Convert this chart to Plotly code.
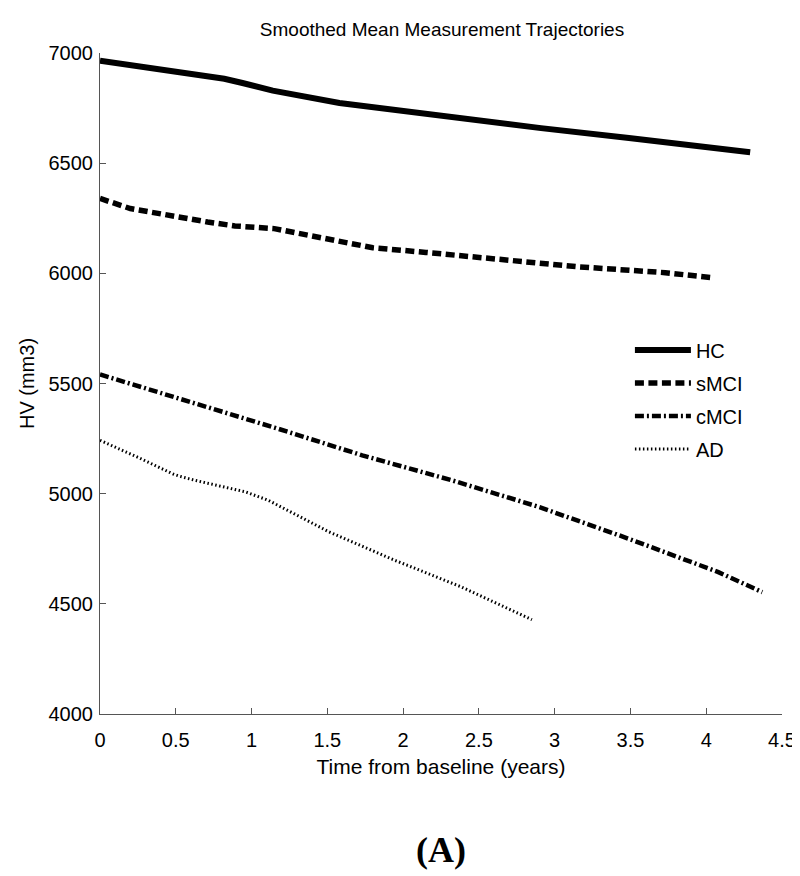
import plotly.graph_objects as go

# Data
hc_x = [0, 0.5, 0.82, 0.94, 1.14, 1.58, 1.97, 2.47, 2.91, 3.49, 4.29]
hc_y = [6965, 6915, 6883, 6864, 6829, 6773, 6738, 6697, 6659, 6614, 6550]

smci_x = [0, 0.2, 0.71, 0.89, 1.15, 1.48, 1.80, 2.15, 2.56, 3.15, 3.73, 4.04]
smci_y = [6340, 6294, 6233, 6215, 6203, 6158, 6116, 6095, 6068, 6030, 6003, 5980]

cmci_x = [0, 0.56, 1.15, 1.73, 2.32, 2.90, 3.49, 4.08, 4.37]
cmci_y = [5541, 5424, 5300, 5174, 5061, 4939, 4795, 4644, 4553]

ad_x = [0, 0.25, 0.48, 0.52, 0.63, 0.96, 1.11, 1.51, 1.94, 2.38, 2.85]
ad_y = [5242, 5165, 5090, 5080, 5060, 5008, 4970, 4827, 4699, 4578, 4428]

x_ticks = [0, 0.5, 1, 1.5, 2, 2.5, 3, 3.5, 4, 4.5]
x_tick_labels = ["0", "0.5", "1", "1.5", "2", "2.5", "3", "3.5", "4", "4.5"]
y_ticks = [4000, 4500, 5000, 5500, 6000, 6500, 7000]
y_tick_labels = ["4000", "4500", "5000", "5500", "6000", "6500", "7000"]

FONT = "Liberation Sans"

fig = go.Figure()
fig.add_trace(go.Scatter(x=hc_x, y=hc_y, mode="lines", name="HC", legendgroup="a",
                         line=dict(color="black", width=6, dash="solid")))
fig.add_trace(go.Scatter(x=smci_x, y=smci_y, mode="lines", name="sMCI", legendgroup="b",
                         line=dict(color="black", width=5.5, dash="9px,4.5px")))
fig.add_trace(go.Scatter(x=cmci_x, y=cmci_y, mode="lines", name="cMCI", legendgroup="c",
                         line=dict(color="black", width=4.5, dash="9px,3px,2px,3px")))
fig.add_trace(go.Scatter(x=ad_x, y=ad_y, mode="lines", name="AD", legendgroup="d",
                         line=dict(color="black", width=3, dash="1.5px,2.5px")))

axis_common = dict(
    showline=True, linecolor="#555555", linewidth=1.2,
    ticks="inside", ticklen=6, tickcolor="#555555", tickwidth=1.2,
    showgrid=False, zeroline=False, mirror=False,
    tickfont=dict(family=FONT, size=20, color="black"),
)

fig.update_layout(
    width=800, height=876, autosize=False,
    margin=dict(l=92, r=23, t=45, b=170),
    paper_bgcolor="white", plot_bgcolor="white",
    font=dict(family=FONT, size=20, color="black"),
    title=dict(text="Smoothed Mean Measurement Trajectories", x=0.5425, xanchor="center",
               y=1 - 21 / 876, yanchor="middle",
               font=dict(family=FONT, size=19, color="black")),
    xaxis=dict(range=[0, 4.5], tickvals=x_ticks, ticktext=x_tick_labels,
               title=dict(text="Time from baseline (years)", standoff=9,
                          font=dict(family=FONT, size=21)),
               ticklabelstandoff=8, **axis_common),
    yaxis=dict(range=[4000, 7000], tickvals=y_ticks, ticktext=y_tick_labels,
               title=dict(text="HV (mm3)", standoff=8, font=dict(family=FONT, size=20)),
               ticklabelstandoff=2, **axis_common),
    legend=dict(x=0.777, y=0.58, xanchor="left", yanchor="top",
                bgcolor="rgba(0,0,0,0)", borderwidth=0,
                font=dict(family=FONT, size=20), tracegroupgap=4, itemwidth=56),
    showlegend=True,
    annotations=[dict(text="<b>(A)</b>", xref="paper", yref="paper",
                      x=0.50, y=-(842 - 706) / 661, xanchor="center", yanchor="middle",
                      showarrow=False,
                      font=dict(family="Liberation Serif", size=36, color="black"))],
)

fig.write_html("out.html")
